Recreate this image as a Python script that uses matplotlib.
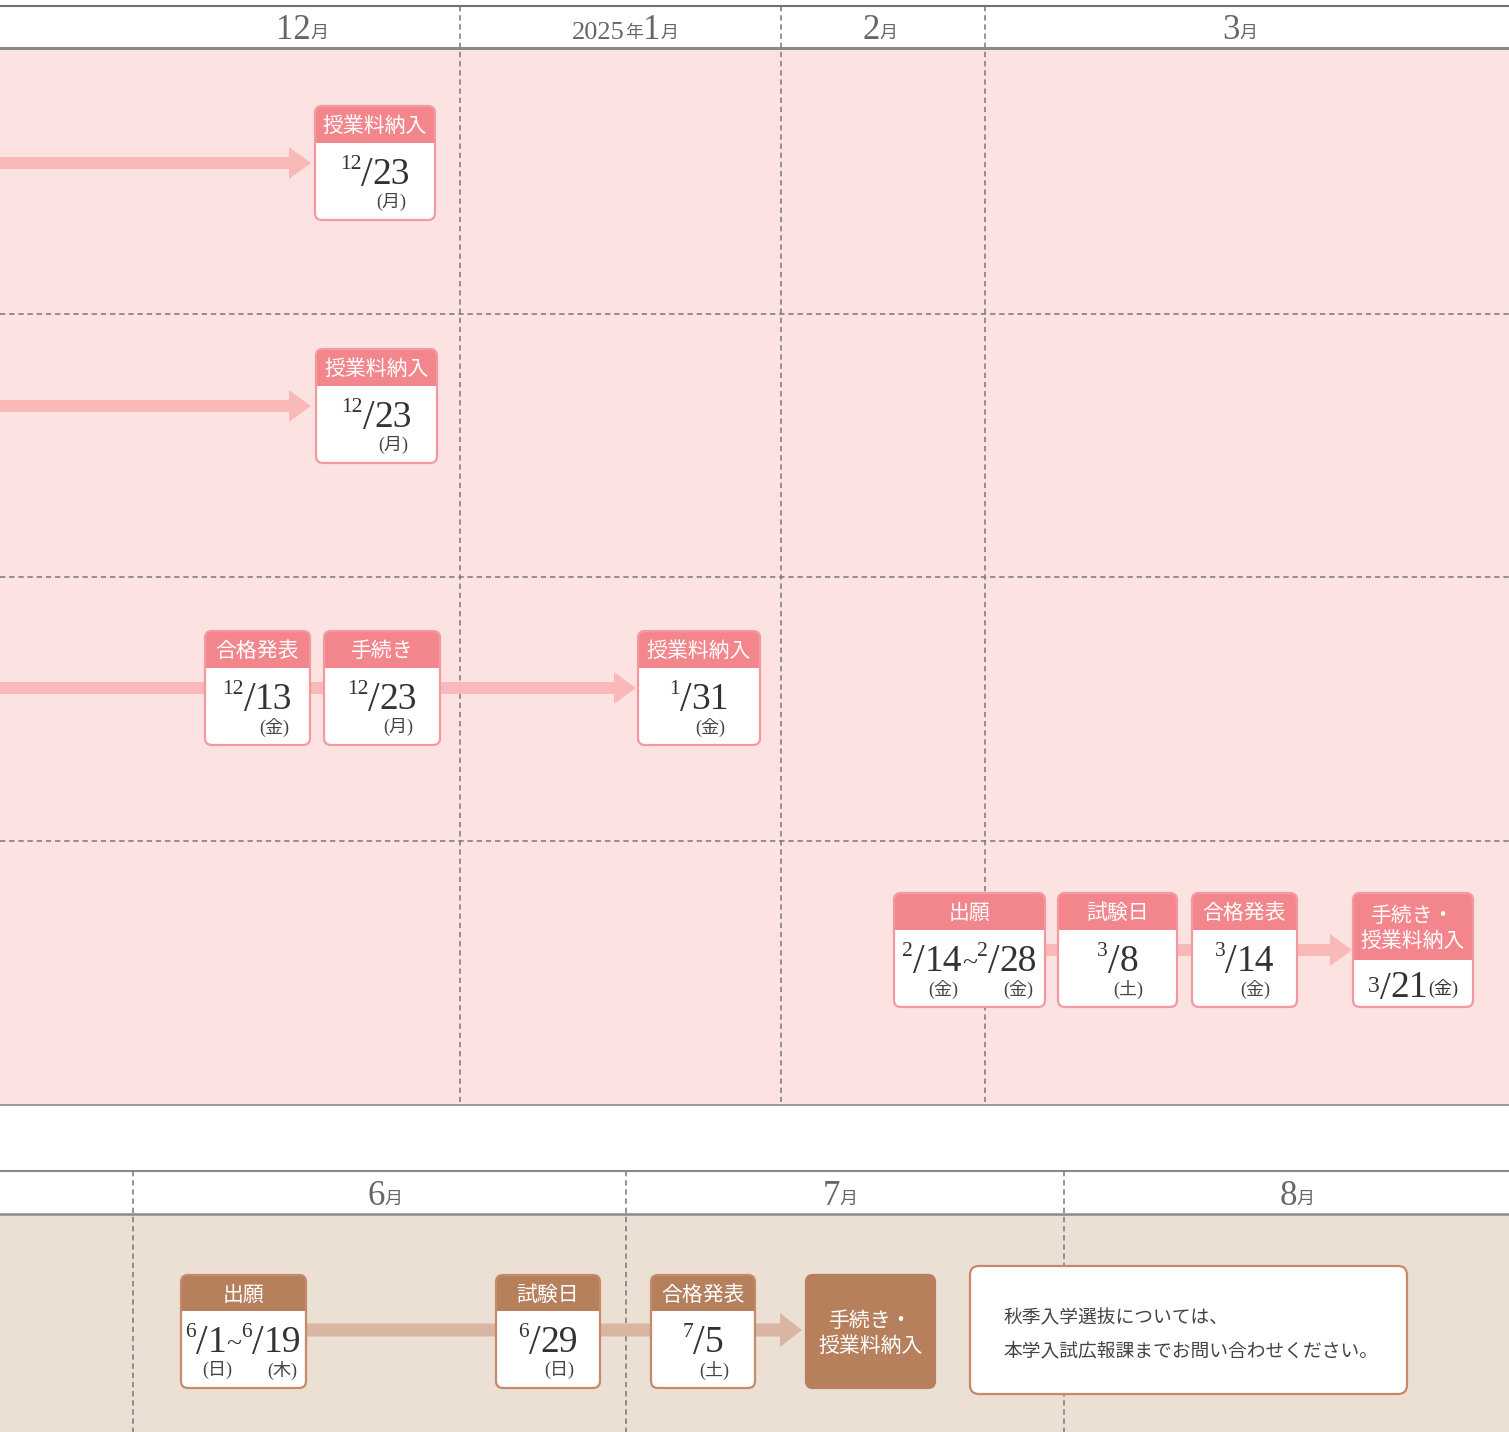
import re
import matplotlib
matplotlib.use("Agg")
import matplotlib.pyplot as plt
from matplotlib.patches import FancyBboxPatch, Rectangle

# ---- data -------------------------------------------------------------
top_months = ["12月", "2025年1月", "2月", "3月"]
bottom_months = ["6月", "7月", "8月"]

top_titles = ["授業料納入", "授業料納入", "合格発表", "手続き", "授業料納入",
              "出願", "試験日", "合格発表", "手続き・\n授業料納入"]
top_dates = ["12/23", "12/23", "12/13", "12/23", "1/31",
             "2/14~2/28", "3/8", "3/14", "3/21"]
top_days = [["月"], ["月"], ["金"], ["月"], ["金"],
            ["金", "金"], ["土"], ["金"], ["金"]]
top_row = [0, 1, 2, 2, 2, 3, 3, 3, 3]

bottom_titles = ["出願", "試験日", "合格発表", "手続き・\n授業料納入"]
bottom_dates = ["6/1~6/19", "6/29", "7/5", None]
bottom_days = [["日", "木"], ["日"], ["土"], []]

note_lines = ["秋季入学選抜については、", "本学入試広報課までお問い合わせください。"]

# ---- layout (pixels) -------------------------------------------------
W, H = 1509, 1432
top_month_x = [302, 625, 880, 1240]
top_dividers = [460, 781, 985]
row_lines = [314, 577, 841]
row_tops = [106, 349, 631, 893]
top_box_x = [(315, 435), (316, 437), (205, 310), (324, 440), (638, 760),
             (894, 1045), (1058, 1177), (1192, 1297), (1353, 1473)]
top_arrows = [(0, 311), (0, 311), (0, 636), (1045, 1352)]

bottom_month_x = [385, 840, 1297]
bottom_dividers = [133, 626, 1064]
bottom_box_x = [(181, 306), (496, 600), (651, 755), (806, 935)]
bottom_top = 1275
bottom_arrow = (306, 802)

PINK_BG = "#fde2e2"
PINK = "#f3868d"
PINK_ARROW = "#f9b9b9"
BEIGE_BG = "#ecdfd3"
BROWN = "#b7805d"
BROWN_ARROW = "#d9b6a1"
BROWN_EDGE = "#c58b68"
GRID = "#777777"
INK = "#333333"

FONT = ["Liberation Serif", "Noto Sans CJK JP"]

fig = plt.figure(figsize=(W / 100, H / 100), dpi=100)
ax = fig.add_axes([0, 0, 1, 1])
ax.set_xlim(0, W)
ax.set_ylim(H, 0)
ax.axis("off")
renderer = fig.canvas.get_renderer()


def rich(x, y, parts, color=INK, z=6):
    """parts: (text, size, raise_px); laid out left to right, centred at x."""
    items = []
    for s, size, up in parts:
        t = ax.text(0, y - up, s, fontsize=size, family=FONT, color=color,
                    va="baseline", ha="left", zorder=z)
        items.append((t, t.get_window_extent(renderer).width))
    cur = x - sum(w for _, w in items) / 2
    spans = []
    for t, w in items:
        t.set_x(cur)
        spans.append((cur, cur + w))
        cur += w
    return spans


def month_label(x, y, label):
    parts = []
    for seg in re.findall(r"\d+|\D+", label):
        if seg.isdigit():
            parts.append((seg, 19 if len(seg) == 4 else 25, 0))
        else:
            parts.append((seg, 13, 1))
    rich(x, y, parts, color="#666666")


def box(x0, x1, top, h, head_h, head_c, edge_c, title, body="white"):
    r = 7
    style = f"round,pad=0,rounding_size={r}"
    ax.add_patch(FancyBboxPatch((x0, top), x1 - x0, h, boxstyle=style,
                                fc=head_c, ec="none", zorder=4))
    if body:
        bt = top + head_h
        ax.add_patch(FancyBboxPatch((x0, bt), x1 - x0, top + h - bt, boxstyle=style,
                                    fc=body, ec="none", zorder=4.1))
        ax.add_patch(Rectangle((x0, bt), x1 - x0, r + 1, fc=body, ec="none", zorder=4.2))
    ax.add_patch(FancyBboxPatch((x0, top), x1 - x0, h, boxstyle=style,
                                fc="none", ec=edge_c, lw=1.6, zorder=4.3))
    ax.text((x0 + x1) / 2, top + head_h / 2 + 3, title, color="white", fontsize=15,
            family=FONT, ha="center", va="center", linespacing=1.3, zorder=6)


def date_block(cx, top, date, days, inline=False):
    if inline:
        m, d = date.split("/")
        rich(cx, top + 104, [(m, 17, 5), ("/", 28, -2), (d, 27, 0),
                             ("(" + days[0] + ")", 13, 3)])
        return
    parts = []
    for i, seg in enumerate(date.split("~")):
        if i:
            parts.append(("~", 20, 0))
        m, d = seg.split("/")
        parts += [(m, 15.5, 15), ("/", 30, -2), (d, 27, 0)]
    spans = rich(cx, top + 78, parts)
    big = [spans[k] for k in range(len(parts)) if k % 4 == 2]
    for (a, b), day in zip(big, days):
        ax.text((a + b) / 2, top + 96, "(" + day + ")", fontsize=13, family=FONT,
                color="#444444", ha="center", va="center", zorder=6)


# ---- top section -----------------------------------------------------
ax.add_patch(Rectangle((0, 49), W, 1105 - 49, fc=PINK_BG, ec="none", zorder=0))
ax.plot([0, W], [6, 6], color="#707070", lw=1.5, zorder=2)
ax.plot([0, W], [48, 48], color="#8a8a8a", lw=2.2, zorder=2)
ax.plot([0, W], [1105, 1105], color="#8a8a8a", lw=1.2, zorder=2)
for xd in top_dividers:
    ax.plot([xd, xd], [6, 1102], color=GRID, lw=1.1, dashes=(3.5, 2.5), zorder=1)
for yl in row_lines:
    ax.plot([0, W], [yl, yl], color=GRID, lw=1.1, dashes=(3.5, 2.5), zorder=1)
for x, lab in zip(top_month_x, top_months):
    month_label(x, 39, lab)

for (a, b), top in zip(top_arrows, row_tops):
    ax.arrow(a, top + 57, b - a, 0, width=12, head_width=32, head_length=22,
             length_includes_head=True, fc=PINK_ARROW, ec="none", zorder=3)

for (x0, x1), title, date, days, row in zip(top_box_x, top_titles, top_dates,
                                            top_days, top_row):
    top = row_tops[row]
    tall = "\n" in title
    box(x0, x1, top, 114, 67 if tall else 37, PINK, "#f39aa0", title)
    date_block((x0 + x1) / 2, top, date, days, inline=tall)

# ---- bottom section --------------------------------------------------
ax.add_patch(Rectangle((0, 1215), W, H - 1215, fc=BEIGE_BG, ec="none", zorder=0))
ax.plot([0, W], [1171, 1171], color="#8a8a8a", lw=1.5, zorder=2)
ax.plot([0, W], [1214, 1214], color="#8a8a8a", lw=1.8, zorder=2)
for xd in bottom_dividers:
    ax.plot([xd, xd], [1171, H], color=GRID, lw=1.1, dashes=(3.5, 2.5), zorder=1)
for x, lab in zip(bottom_month_x, bottom_months):
    month_label(x, 1205, lab)

a, b = bottom_arrow
ax.arrow(a, bottom_top + 55, b - a, 0, width=13, head_width=34, head_length=22,
         length_includes_head=True, fc=BROWN_ARROW, ec="none", zorder=3)

for (x0, x1), title, date, days in zip(bottom_box_x, bottom_titles, bottom_dates,
                                       bottom_days):
    if date is None:
        box(x0, x1, bottom_top, 113, 113, BROWN, BROWN, title, body=None)
        continue
    box(x0, x1, bottom_top, 113, 36, BROWN, BROWN_EDGE, title)
    date_block((x0 + x1) / 2, bottom_top - 1, date, days)

ax.add_patch(FancyBboxPatch((970, 1266), 437, 128, boxstyle="round,pad=0,rounding_size=9",
                            fc="white", ec=BROWN_EDGE, lw=1.6, zorder=4))
for i, line in enumerate(note_lines):
    ax.text(1003, 1319 + 32 * i, line, fontsize=13.5, family=FONT, color="#444444",
            ha="left", va="center", zorder=6)

fig.savefig("out.png", dpi=100)
